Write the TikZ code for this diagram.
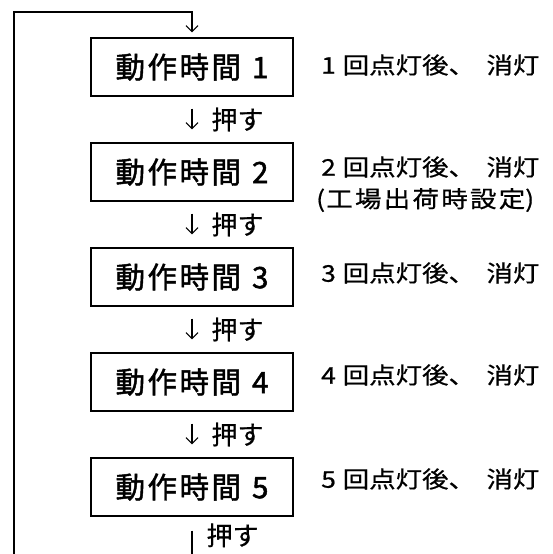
\documentclass[tikz,border=0pt]{standalone}
\usepackage{fontspec}
\newfontfamily\jp{Noto Sans CJK JP}
\newfontfamily\jpb[FakeBold=1.6]{Noto Sans CJK JP}
\newfontfamily\jpm[FakeBold=0.6]{Noto Sans CJK JP}
\usetikzlibrary{arrows.meta}
\tikzset{
  stepbox/.style={draw, line width=1.2pt, minimum width=202pt, minimum height=58pt, inner sep=0pt,
    font=\jpb\fontsize{29.5}{33}\selectfont},
  flow/.style={line width=1.1pt, -{Straight Barb[length=6pt,width=12pt,line width=1.1pt]}},
  plain/.style={line width=1.2pt},
  pushlbl/.style={anchor=west, inner sep=1pt, font=\jpm\fontsize{26}{30}\selectfont},
  desc/.style={anchor=west, inner sep=0pt, font=\jpm\fontsize{23}{27}\selectfont},
}
\newcommand{\wide}[1]{\scalebox{1.15}[1]{#1}}
\newcommand{\boxtxt}[1]{動\kern2.5pt作\kern2.5pt時\kern2.5pt間\kern11pt#1}
\newcommand{\desctxt}[1]{\wide{#1\kern6pt回点灯後、\kern10pt消灯}}
\begin{document}
\begin{tikzpicture}[x=1pt,y=-1pt]
\useasboundingbox (0,0) rectangle (552,554);
% boxes
\node[stepbox] (b1) at (192,67)  {\boxtxt{1}};
\node[stepbox] (b2) at (192,172) {\boxtxt{2}};
\node[stepbox] (b3) at (192,277) {\boxtxt{3}};
\node[stepbox] (b4) at (192,382) {\boxtxt{4}};
\node[stepbox] (b5) at (192,487) {\boxtxt{5}};
% descriptions
\node[desc] (d1) at (321,65)  {\desctxt{1}};
\node[desc] (d2) at (321,167) {\desctxt{2}};
\node[desc] (d2b) at (316,200) {\wide{(\kern1pt工\kern2pt場\kern2pt出\kern2pt荷\kern2pt時\kern2pt設\kern2pt定)}};
\node[desc] (d3) at (321,273) {\desctxt{3}};
\node[desc] (d4) at (321,375) {\desctxt{4}};
\node[desc] (d5) at (321,479) {\desctxt{5}};
% connectors between boxes
\foreach \a/\b in {b1/b2,b2/b3,b3/b4,b4/b5}{
  \draw[flow, shorten <=12pt, shorten >=13pt] (\a.south) -- (\b.north)
    node[pushlbl, midway, xshift=18pt] {押す};
}
% return loop
\coordinate (bot) at (192,554);
\coordinate (lb) at (14,554);
\coordinate (tr) at (192,12);
\draw[plain, shorten <=14pt] (b5.south) -- (bot)
  node[pushlbl, pos=0.5, xshift=13pt] {押す};
\draw[flow, shorten >=5pt] (lb) |- (tr) -- (b1.north);
\end{tikzpicture}
\end{document}
